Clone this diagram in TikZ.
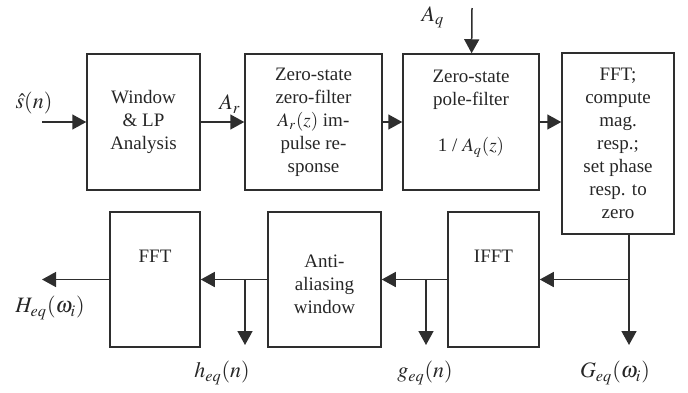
\documentclass[tikz,border=0pt]{standalone}
\usepackage{mathptmx}
\usepackage{fontspec}
\setmainfont{Liberation Serif}
\usepackage{tikz}
\usetikzlibrary{positioning,arrows.meta,calc}
\colorlet{lineink}{black!82}
\tikzset{
  blk/.style={draw=lineink, line width=0.75pt, align=center, inner sep=0pt,
    font=\fontsize{9.5}{11.5}\selectfont, text=black!85, minimum height=68pt},
  sig/.style={font=\fontsize{11}{12}\selectfont, inner sep=1pt, text=black!85},
  flow/.style={-{Triangle[length=7pt, width=7.5pt]}, line width=0.75pt, draw=lineink},
}
\begin{document}
\begin{tikzpicture}[x=0.5pt,y=-0.5pt]
\useasboundingbox (0,0) rectangle (688,392);
% top row
\node[blk, minimum width=56.5pt] (win) at (143.5,122) {Window\\\& LP\\Analysis};
\node[blk, minimum width=68.5pt] (zf) at (313.5,122) {Zero-state\\zero-filter\\$A_r(z)$ im-\\pulse re-\\sponse};
\node[blk, minimum width=68pt] (pf) at (471,122) {Zero-state\\pole-filter\\\mbox{}\\1 / $A_q(z)$\\\mbox{}};
\node[blk, minimum width=56pt, minimum height=90.5pt] (mag) at (618,143.5) {FFT;\\compute\\mag.\\resp.;\\set phase\\resp. to\\zero};
% bottom row
\node[blk, minimum width=45pt, minimum height=67.5pt] (fftb) at (155,279.5) {FFT\\\mbox{}\\\mbox{}};
\node[blk, minimum width=56.5pt, minimum height=67.5pt] (aa) at (324.5,279.5) {\mbox{}\\Anti-\\aliasing\\window};
\node[blk, minimum width=45.5pt, minimum height=67.5pt] (ifft) at (493.5,279.5) {IFFT\\\mbox{}\\\mbox{}};
% signal labels
\node[sig] (sn) at (34,103) {$\hat{s}(n)$};
\node[sig] (ar) at (230,104) {$A_r$};
\node[sig] (aqlab) at (433,17) {$A_q$};
\node[sig] (hw) at (50,308) {$H_{eq}(\omega_i)$};
\node[sig] (hn) at (222,373) {$h_{eq}(n)$};
\node[sig] (gn) at (425,373) {$g_{eq}(n)$};
\node[sig] (gw) at (615,373) {$G_{eq}(\omega_i)$};
% free ends
\coordinate (sin) at (42,122);
\coordinate (aq) at (472,8);
\coordinate (gout) at (629,345);
\coordinate (gtap) at (629,279.5);
\coordinate (gdown) at (426,345);
\coordinate (hdown) at (245,345);
\coordinate (hout) at (42,279.5);
% flows
\draw[flow] (sin) -- (win);
\draw[flow] (win) -- (zf);
\draw[flow] (zf) -- (pf);
\draw[flow] (pf.east) -- (pf.east -| mag.west);
\draw[flow] (aq) -- (pf);
\draw[flow] (mag.south -| gout) -- (gout);
\draw[flow] (gtap) -- (ifft);
\draw[flow] (ifft) -- (aa);
\draw[flow] (gdown |- ifft.west) -- (gdown);
\draw[flow] (aa) -- (fftb);
\draw[flow] (hdown |- aa.west) -- (hdown);
\draw[flow] (fftb) -- (hout);
\end{tikzpicture}
\end{document}
